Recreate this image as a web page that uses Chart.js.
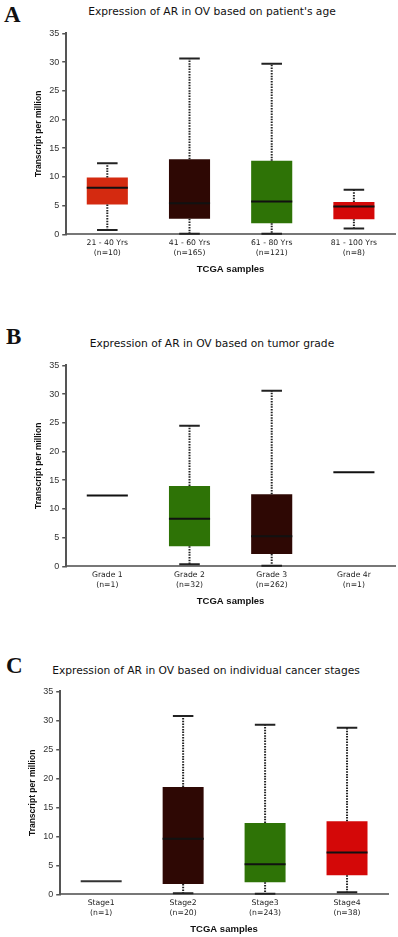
<!DOCTYPE html>
<html>
<head>
<meta charset="utf-8">
<script src="https://cdn.jsdelivr.net/npm/chart.js@4"></script>
<style>
  body { margin: 0; background: #fff; width: 398px; height: 937px; position: relative; overflow: hidden; }
  .letra { position: absolute; font-family: "Liberation Serif", "DejaVu Serif", serif; font-weight: bold; font-size: 23px; color: #111; }
  .titulo { position: absolute; font-family: "DejaVu Sans", sans-serif; font-size: 10.7px; color: #111; white-space: nowrap; transform: translate(-50%, -50%); }
  .caja { position: absolute; left: 0; width: 398px; }
</style>
</head>
<body>

<div class="letra" style="left:4px; top:2px;">A</div>
<div class="titulo" style="left:212px; top:11px;">Expression of AR in OV based on patient's age</div>
<div class="caja" style="top:25px; height:250px;"><canvas id="grafica_edad"></canvas></div>

<div class="letra" style="left:6px; top:324px;">B</div>
<div class="titulo" style="left:212px; top:343px;">Expression of AR in OV based on tumor grade</div>
<div class="caja" style="top:357px; height:250px;"><canvas id="grafica_grado"></canvas></div>

<div class="letra" style="left:6px; top:653px;">C</div>
<div class="titulo" style="left:206px; top:670px;">Expression of AR in OV based on individual cancer stages</div>
<div class="caja" style="top:683px; height:252px;"><canvas id="grafica_etapa"></canvas></div>

<script>
// A - edad
const edad_etiquetas = [['21 - 40 Yrs', '(n=10)'], ['41 - 60 Yrs', '(n=165)'], ['61 - 80 Yrs', '(n=121)'], ['81 - 100 Yrs', '(n=8)']];
const edad_min = [0.75, 0.1, 0.1, 1.0];
const edad_q1 = [5.2, 2.7, 1.95, 2.65];
const edad_mediana = [8.1, 5.4, 5.7, 4.85];
const edad_q3 = [9.9, 13.1, 12.8, 5.65];
const edad_max = [12.4, 30.65, 29.7, 7.75];
const edad_colores = ['#d42a10', '#2e0804', '#2e7306', '#d40808'];

// B - grado
const grado_etiquetas = [['Grade 1', '(n=1)'], ['Grade 2', '(n=32)'], ['Grade 3', '(n=262)'], ['Grade 4r', '(n=1)']];
const grado_min = [12.33, 0.35, 0.1, 16.4];
const grado_q1 = [12.33, 3.5, 2.13, 16.4];
const grado_mediana = [12.33, 8.3, 5.24, 16.4];
const grado_q3 = [12.33, 14.0, 12.56, 16.4];
const grado_max = [12.33, 24.5, 30.6, 16.4];
const grado_colores = ['#111', '#2e7306', '#2e0804', '#111'];

// C - etapa
const etapa_etiquetas = [['Stage1', '(n=1)'], ['Stage2', '(n=20)'], ['Stage3', '(n=243)'], ['Stage4', '(n=38)']];
const etapa_min = [2.24, 0.2, 0.1, 0.35];
const etapa_q1 = [2.24, 1.78, 2.07, 3.28];
const etapa_mediana = [2.24, 9.6, 5.17, 7.2];
const etapa_q3 = [2.24, 18.5, 12.3, 12.6];
const etapa_max = [2.24, 30.75, 29.25, 28.75];
const etapa_colores = ['#333', '#2e0804', '#2e7306', '#d40808'];

const y_ticks = [0, 5, 10, 15, 20, 25, 30, 35];

// bigotes y medianas con las escalas del chart
const bigotes = {
  id: 'bigotes',
  afterDatasetsDraw(chart, args, opts) {
    const ctx = chart.ctx;
    const y = chart.scales.y;
    const meta = chart.getDatasetMeta(0);
    meta.data.forEach((bar, i) => {
      const x = bar.x, w = bar.width;
      const yq1 = y.getPixelForValue(opts.q1[i]);
      const yq3 = y.getPixelForValue(opts.q3[i]);
      const ymin = y.getPixelForValue(opts.min[i]);
      const ymax = y.getPixelForValue(opts.max[i]);
      const ymed = y.getPixelForValue(opts.mediana[i]);
      ctx.save();
      ctx.strokeStyle = '#222';
      if (opts.max[i] > opts.q3[i]) {
        ctx.lineWidth = 2;
        ctx.setLineDash([1.5, 1.2]);
        ctx.beginPath();
        ctx.moveTo(x, yq3); ctx.lineTo(x, ymax);
        ctx.moveTo(x, yq1); ctx.lineTo(x, ymin);
        ctx.stroke();
        ctx.setLineDash([]);
        ctx.beginPath();
        ctx.moveTo(x - w / 4, ymax); ctx.lineTo(x + w / 4, ymax);
        ctx.moveTo(x - w / 4, ymin); ctx.lineTo(x + w / 4, ymin);
        ctx.stroke();
      }
      ctx.strokeStyle = opts.colorMediana ? opts.colorMediana[i] : '#111';
      ctx.lineWidth = 2;
      ctx.beginPath();
      ctx.moveTo(x - w / 2, ymed); ctx.lineTo(x + w / 2, ymed);
      ctx.stroke();
      ctx.restore();
    });
  }
};

function crearGrafica(id, etiquetas, mn, q1, med, q3, mx, colores, colorMediana, izquierda, derecha) {
  const ctx = document.getElementById(id).getContext('2d');
  return new Chart(ctx, {
    type: 'bar',
    data: {
      labels: etiquetas,
      datasets: [{
        label: 'Caja',
        data: q1.map((v, i) => [v, q3[i]]),
        backgroundColor: colores,
        borderWidth: 0,
        barPercentage: 0.5,
        categoryPercentage: 1
      }]
    },
    plugins: [bigotes],
    options: {
      responsive: true,
      maintainAspectRatio: false,
      animation: false,
      layout: { padding: { top: 4, left: izquierda, right: derecha, bottom: 0 } },
      plugins: {
        legend: { display: false },
        tooltip: { enabled: false },
        bigotes: { min: mn, q1: q1, mediana: med, q3: q3, max: mx, colorMediana: colorMediana }
      },
      scales: {
        x: {
          grid: { display: false, drawTicks: false, tickLength: 0 },
          border: { display: true, color: '#777', width: 2 },
          ticks: { color: '#222', font: { family: 'DejaVu Sans', size: 7.7, lineHeight: 1.25 }, padding: 4, maxRotation: 0, autoSkip: false },
          title: { display: true, text: 'TCGA samples', color: '#111', font: { family: 'Liberation Sans', size: 9.5, weight: 'bold' }, padding: { top: 2, bottom: 0 } }
        },
        y: {
          min: 0,
          max: 35,
          afterBuildTicks: (escala) => { escala.ticks = y_ticks.map(v => ({ value: v })); },
          grid: { drawOnChartArea: false, drawTicks: true, tickLength: 4, color: '#555', lineWidth: 1.5 },
          border: { display: true, color: '#555', width: 2 },
          ticks: { color: '#333', font: { family: 'Liberation Sans', size: 9 }, padding: 3 },
          title: { display: true, text: 'Transcript per million', color: '#111', font: { family: 'Liberation Sans', size: 8.5, weight: 'bold' }, padding: { top: 0, bottom: 2 } }
        }
      }
    }
  });
}

crearGrafica('grafica_edad', edad_etiquetas, edad_min, edad_q1, edad_mediana, edad_q3, edad_max, edad_colores, null, 34, 3);
crearGrafica('grafica_grado', grado_etiquetas, grado_min, grado_q1, grado_mediana, grado_q3, grado_max, grado_colores, null, 34, 3);
crearGrafica('grafica_etapa', etapa_etiquetas, etapa_min, etapa_q1, etapa_mediana, etapa_q3, etapa_max, etapa_colores, ['#333', '#111', '#111', '#111'], 28, 10);
</script>
</body>
</html>
